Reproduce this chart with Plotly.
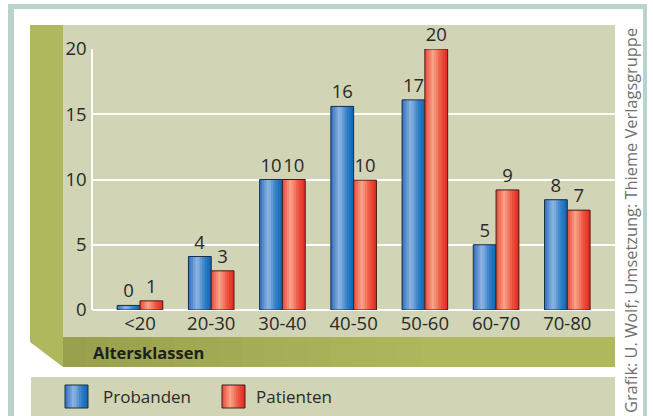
import plotly.graph_objects as go

# ---- data ----
categories = ["<20", "20-30", "30-40", "40-50", "50-60", "60-70", "70-80"]
series_names = ["Probanden", "Patienten"]
probanden_heights = [0.35, 4.1, 10.0, 15.6, 16.1, 5.0, 8.45]
patienten_heights = [0.7, 3.0, 10.0, 9.95, 20.0, 9.2, 7.65]
probanden_labels = ["0", "4", "10", "16", "17", "5", "8"]
patienten_labels = ["1", "3", "10", "10", "20", "9", "7"]
y_ticks = [0, 5, 10, 15, 20]
x_title = "Altersklassen"
credit = "Grafik: U. Wolf; Umsetzung: Thieme Verlagsgruppe"

# ---- style ----
W, H = 653, 416
L, R, T, B = 93, 38, 49, 106
PW, PH = W - L - R, H - T - B
FONT = "Open Sans"
BEIGE = "#d1d4b5"
OLIVE = "#b0b85e"
TEAL = "#b9d3cb"

blue_stops = [(0, (46, 110, 190)), (0.38, (145, 183, 226)), (0.7, (52, 128, 200)), (1, (10, 102, 180))]
red_stops = [(0, (232, 72, 58)), (0.36, (248, 165, 138)), (0.7, (238, 84, 64)), (1, (222, 40, 32))]


def grad(stops, t):
    for (t0, c0), (t1, c1) in zip(stops, stops[1:]):
        if t <= t1:
            f = (t - t0) / (t1 - t0) if t1 > t0 else 0
            c = [round(a + (b - a) * f) for a, b in zip(c0, c1)]
            return "rgb(%d,%d,%d)" % tuple(c)
    return "rgb(%d,%d,%d)" % stops[-1][1]


def px(x):
    return (x - L) / PW


def py(y):
    return (T + PH - y) / PH


BW = 0.32
N = 10
fig = go.Figure()

for name, vals, labels, stops, off, edge in [
    (series_names[0], probanden_heights, probanden_labels, blue_stops, -BW, "#1c2e48"),
    (series_names[1], patienten_heights, patienten_labels, red_stops, 0.0, "#4a1a16"),
]:
    fig.add_trace(go.Bar(x=categories, y=vals, offset=off, width=BW, name=name,
                         marker=dict(color=grad(stops, 0.5), line=dict(width=0)),
                         showlegend=False, hoverinfo="skip"))
    for i in range(N):
        o = off + i * BW / N
        w = min(BW / N * 1.6, BW - i * BW / N)
        fig.add_trace(go.Bar(x=categories, y=vals, offset=o, width=w,
                             marker=dict(color=grad(stops, (i + 0.5) / N), line=dict(width=0)),
                             showlegend=False, hoverinfo="skip"))
    fig.add_trace(go.Bar(x=categories, y=vals, offset=off, width=BW, name=name,
                         marker=dict(color="rgba(0,0,0,0)", line=dict(color=edge, width=1)),
                         text=labels, textposition="outside", constraintext="none",
                         cliponaxis=False,
                         outsidetextfont=dict(family=FONT, size=18.5, color="#2a2a2a"),
                         showlegend=False))

shapes = []


def rect(x0, y0, x1, y1, color):
    shapes.append(dict(type="rect", xref="paper", yref="paper", layer="below",
                       x0=px(x0), x1=px(x1), y0=py(y1), y1=py(y0),
                       fillcolor=color, line=dict(width=0)))


# frame
rect(8, 4, 647, 430, TEAL)
rect(14, 9, 643, 430, "white")
# chart panel
rect(63, 25, 615, 337, BEIGE)
# left wall
shapes.append(dict(type="path", xref="paper", yref="paper", layer="below",
                   path="M %f %f L %f %f L %f %f L %f %f Z" % (
                       px(30), py(25), px(63), py(25), px(63), py(367), px(30), py(342)),
                   fillcolor=OLIVE, line=dict(width=0)))
# floor strip with gradient
c_dark, c_light = (152, 160, 78), (176, 184, 94)
rect(63, 337, 615, 367, OLIVE)
steps = 16
x_start, x_end = 63, 420
for i in range(steps):
    f = i / steps
    c = tuple(round(a + (b - a) * f) for a, b in zip(c_dark, c_light))
    xa = x_start + (x_end - x_start) * i / steps
    xb = x_start + (x_end - x_start) * (i + 1) / steps + 1
    rect(xa, 337, xb, 367, "rgb(%d,%d,%d)" % c)
# legend panel
rect(31, 377, 615, 430, BEIGE)

# legend swatches
for (sx, stops, edge) in [(65, blue_stops, "#1c2e48"), (222, red_stops, "#4a1a16")]:
    sw = 23
    for i in range(N):
        xa = sx + sw * i / N
        xb = min(sx + sw * (i + 1) / N + 1, sx + sw)
        shapes.append(dict(type="rect", xref="paper", yref="paper", layer="above",
                           x0=px(xa), x1=px(xb), y0=py(408), y1=py(385),
                           fillcolor=grad(stops, (i + 0.5) / N), line=dict(width=0)))
    shapes.append(dict(type="rect", xref="paper", yref="paper", layer="above",
                       x0=px(sx), x1=px(sx + sw), y0=py(408), y1=py(385),
                       fillcolor="rgba(0,0,0,0)", line=dict(color=edge, width=1)))

annotations = [
    dict(text="<b>%s</b>" % x_title, xref="paper", yref="paper", x=px(91), y=py(352),
         xanchor="left", yanchor="middle", showarrow=False,
         font=dict(family=FONT, size=16.5, color="#1e1e1e")),
    dict(text=series_names[0], xref="paper", yref="paper", x=px(101), y=py(396),
         xanchor="left", yanchor="middle", showarrow=False,
         font=dict(family=FONT, size=17, color="#2a2a2a")),
    dict(text=series_names[1], xref="paper", yref="paper", x=px(254), y=py(396),
         xanchor="left", yanchor="middle", showarrow=False,
         font=dict(family=FONT, size=17, color="#2a2a2a")),
    dict(text=credit, xref="paper", yref="paper", x=px(630), y=py(221),
         xanchor="center", yanchor="middle", textangle=-90, showarrow=False,
         font=dict(family=FONT, size=16.4, color="#707070")),
]

fig.update_layout(
    width=W, height=H,
    margin=dict(l=L, r=R, t=T, b=B, pad=0),
    paper_bgcolor="white", plot_bgcolor="rgba(0,0,0,0)",
    barmode="overlay", showlegend=False,
    shapes=shapes, annotations=annotations,
    font=dict(family=FONT, color="#2a2a2a"),
    xaxis=dict(range=[-0.66, 6.67], showgrid=False, zeroline=False, showline=False,
               ticks="", tickfont=dict(family=FONT, size=18.5, color="#2a2a2a"),
               fixedrange=True),
    yaxis=dict(range=[0, 20], tickvals=y_ticks, showgrid=True, gridcolor="white",
               gridwidth=1.5, zeroline=True, zerolinecolor="white", zerolinewidth=1.5,
               showline=True, linecolor="white", linewidth=1.5, ticks="",
               ticklabelstandoff=1,
               tickfont=dict(family=FONT, size=18.5, color="#2a2a2a"), fixedrange=True),
)

fig.write_html("out.html", config={"displayModeBar": False},
               post_script="document.body.style.margin='0';document.body.style.overflow='hidden';")
